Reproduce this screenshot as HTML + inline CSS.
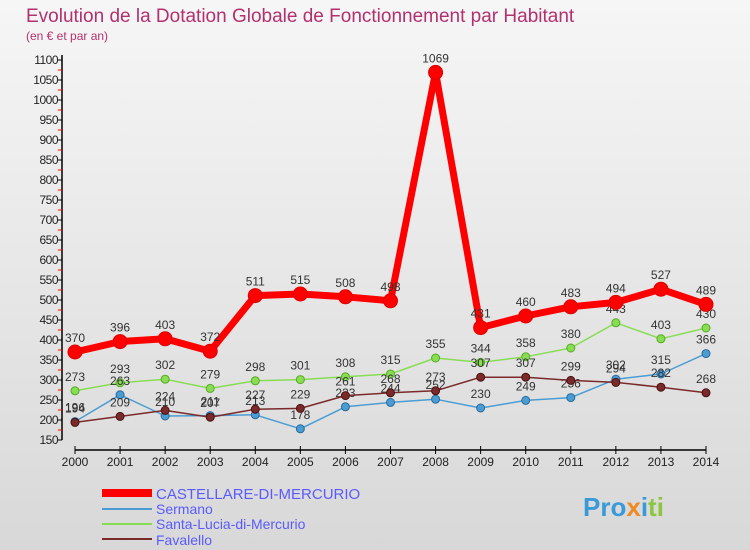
<!DOCTYPE html>
<html><head><meta charset="utf-8"><style>
body{margin:0;width:750px;height:550px;overflow:hidden;font-family:"Liberation Sans",sans-serif}
svg{display:block}
</style></head><body>
<svg id="c" width="750" height="550" xmlns="http://www.w3.org/2000/svg">
<defs><linearGradient id="bg" x1="0" y1="0" x2="0" y2="1"><stop offset="0" stop-color="#f6f6f6"/><stop offset="1" stop-color="#d8d8d8"/></linearGradient></defs>
<rect width="750" height="550" fill="url(#bg)"/>
<text x="26" y="22" font-size="19" fill="#b2306e">Evolution de la Dotation Globale de Fonctionnement par Habitant</text>
<text x="26" y="40" font-size="12" fill="#b2306e">(en € et par an)</text>
<g id="axes"></g><g id="series"></g>
<g>
<line x1="102" y1="493" x2="152" y2="493" stroke="#ff0000" stroke-width="8"/>
<text x="156" y="499" font-size="15" fill="#5a5aff">CASTELLARE-DI-MERCURIO</text>
<line x1="102" y1="509" x2="152" y2="509" stroke="#4b9cd3" stroke-width="2"/>
<text x="156" y="514" font-size="14" fill="#5a5aff">Sermano</text>
<line x1="102" y1="524" x2="152" y2="524" stroke="#88dd55" stroke-width="2"/>
<text x="156" y="529" font-size="14" fill="#5a5aff">Santa-Lucia-di-Mercurio</text>
<line x1="102" y1="539" x2="152" y2="539" stroke="#7a2a2a" stroke-width="2"/>
<text x="156" y="545" font-size="14" fill="#5a5aff">Favalello</text>
</g>
<text x="583" y="516" font-size="26" font-weight="bold" fill="#3a9ad9">Pro<tspan fill="#f08a20">x</tspan><tspan fill="#3a9ad9">i</tspan><tspan fill="#8cc63f">ti</tspan></text>
</svg>
<script>
const years=[2000,2001,2002,2003,2004,2005,2006,2007,2008,2009,2010,2011,2012,2013,2014];
const castellare=[370,396,403,372,511,515,508,498,1069,431,460,483,494,527,489];
const sermano=[196,263,210,211,213,178,233,244,252,230,249,256,302,315,366];
const santaLucia=[273,293,302,279,298,301,308,315,355,344,358,380,443,403,430];
const favalello=[194,209,224,207,227,229,261,268,273,307,307,299,294,282,268];
const yTicks=[150,200,250,300,350,400,450,500,550,600,650,700,750,800,850,900,950,1000,1050,1100];
const NS="http://www.w3.org/2000/svg";
const x=i=>75+i*(706-75)/(years.length-1);
const y=v=>60+(1100-v)*0.4;
function mk(t,a,p){const e=document.createElementNS(NS,t);for(const k in a)e.setAttribute(k,a[k]);p.appendChild(e);return e;}
const ax=document.getElementById('axes'),sg=document.getElementById('series');
let e=mk('line',{x1:62,y1:y(1100)-5,x2:62,y2:y(150),stroke:'#000','stroke-width':1.5},ax);


e=mk('line',{x1:x(0),y1:450,x2:x(14),y2:450,stroke:'#000','stroke-width':1.5},ax);


yTicks.forEach(v=>{
 mk('line',{x1:58,y1:y(v),x2:62,y2:y(v),stroke:'#000'},ax);
 if(v<1100)mk('line',{x1:58,y1:y(v+25),x2:62,y2:y(v+25),stroke:'#ff0000'},ax);
 const t=mk('text',{x:58,y:y(v)+4,'font-size':12,'text-anchor':'end',fill:'#222','letter-spacing':'-0.5'},ax);t.textContent=v;
 
 
});
years.forEach((yr,i)=>{
 mk('line',{x1:x(i),y1:446,x2:x(i),y2:454,stroke:'#000'},ax);
 const t=mk('text',{x:x(i),y:466,'font-size':12,'text-anchor':'middle',fill:'#222'},ax);t.textContent=yr;
 
 
});
function series(data,color,w,r,name,dark){
 const g=mk('g',{},sg);
 
 
 mk('polyline',{points:data.map((v,i)=>x(i)+','+y(v)).join(' '),fill:'none',stroke:color,'stroke-width':w,'stroke-linejoin':'round'},g);
 data.forEach((v,i)=>{
  const c=mk('circle',{cx:x(i),cy:y(v),r:r,fill:color,stroke:dark,'stroke-width':1},g);
  
  
  const t=mk('text',{x:x(i),y:y(v)-10,'font-size':12,'text-anchor':'middle',fill:'#333'},g);t.textContent=v;
  
  
 });
}
series(santaLucia,'#88dd55',1.5,4,'series-santa-lucia','#55aa22');
series(sermano,'#4b9cd3',1.5,4,'series-sermano','#2a6a9a');
series(favalello,'#7a2a2a',1.5,4,'series-favalello','#4a1010');
series(castellare,'#ff0000',7,7,'series-castellare','#dd0000');
</script>
</body></html>
